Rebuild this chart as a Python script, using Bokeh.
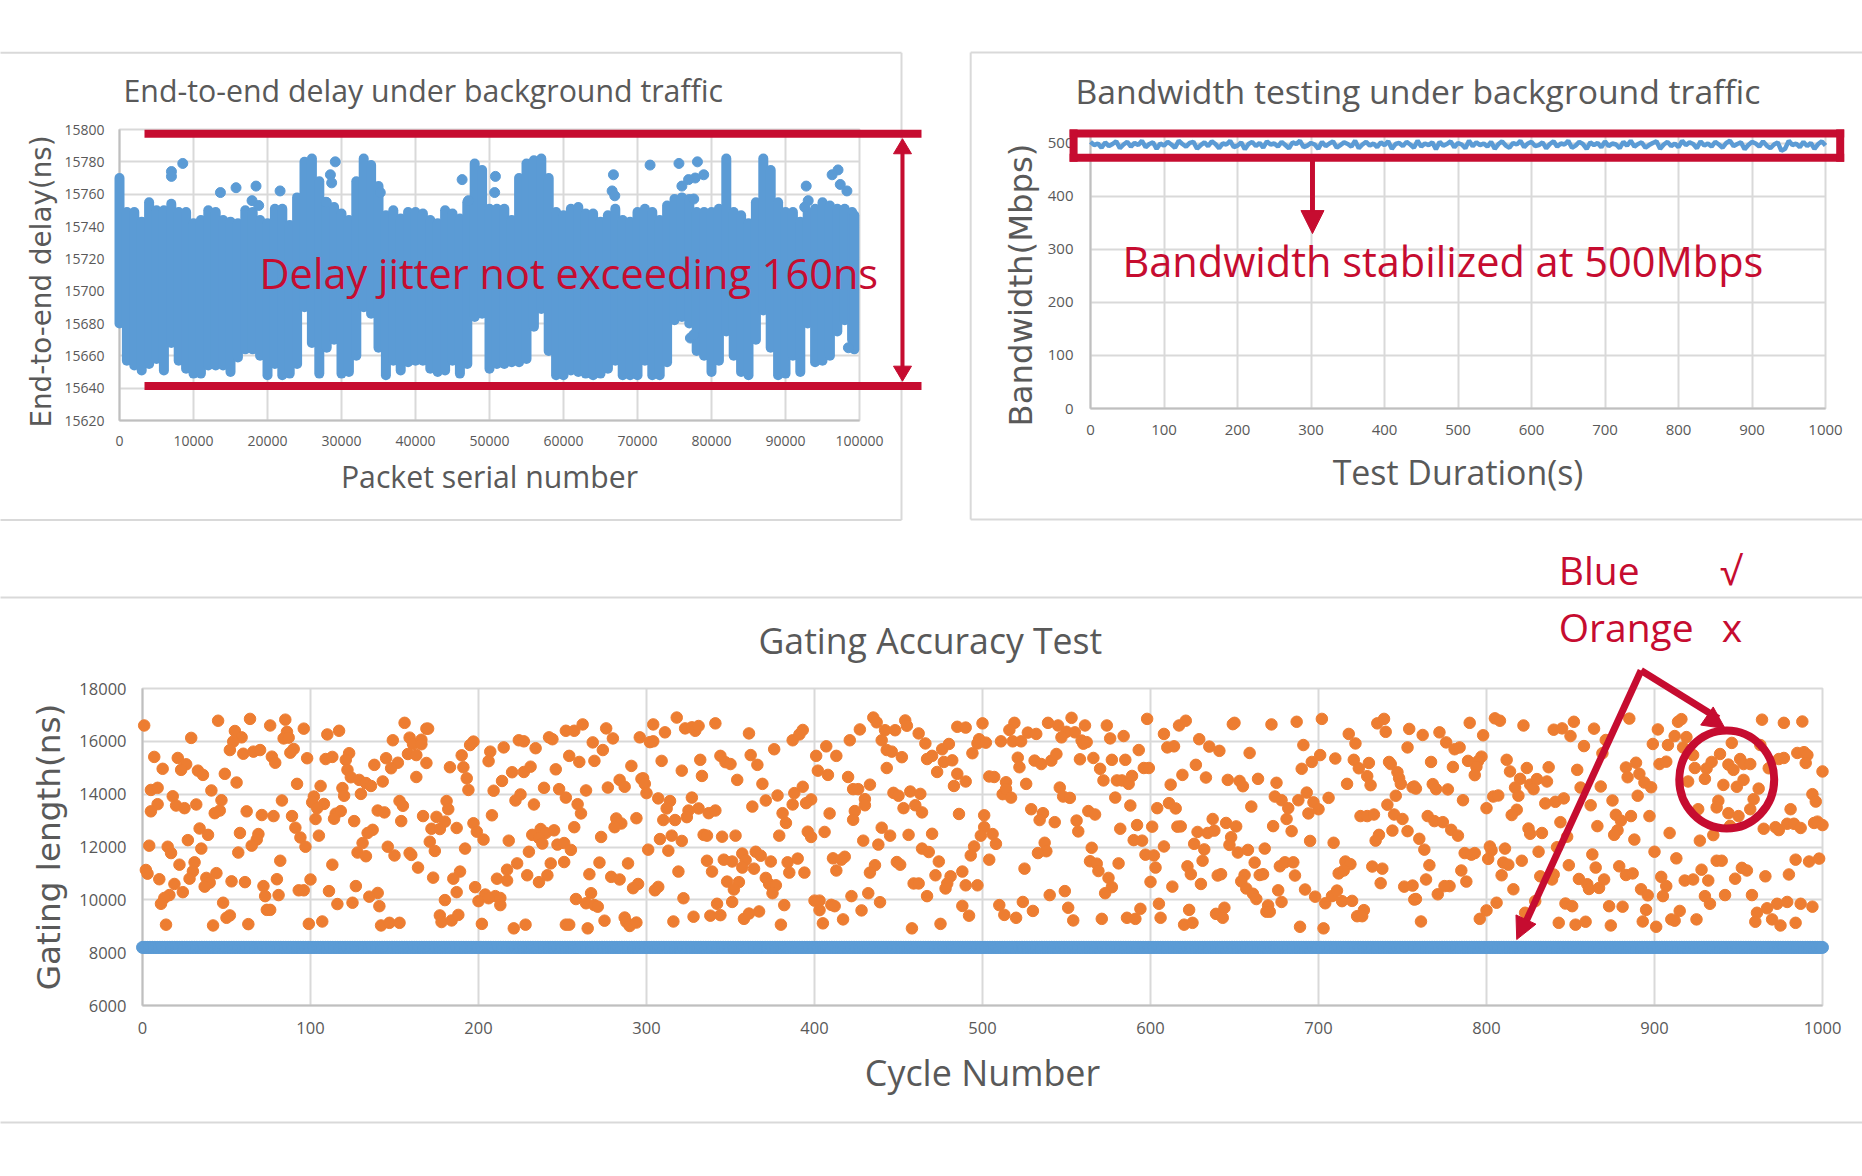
from math import pi
from bokeh.plotting import figure
from bokeh.layouts import column, row
from bokeh.models import Range1d, FixedTicker, NumeralTickFormatter, Arrow, NormalHead
from bokeh.core.properties import value
from bokeh.embed import file_html
from bokeh.resources import INLINE

BLUE = "#5B9BD5"
ORANGE = "#ED7D31"
RED = "#C60C30"
GRID = "#D9D9D9"
AXIS = "#BFBFBF"
TEXT = "#595959"
SANS = "Open Sans"
WIDE = "DejaVu Sans"

# ---------- chart 1: delay envelope per 1000 packets ----------
delay_packet = [i * 1000 for i in range(100)] + [99300]
delay_high = [15770,15749,15749,15743,15755,15750,15750,15754,15749,15749,15742,15744,15750,15749,15744,15743,15742,15750,15749,15744,
15742,15751,15751,15741,15758,15780,15782,15768,15755,15752,15748,15744,15768,15782,15778,15765,15747,15750,15745,15749,
15749,15748,15744,15742,15750,15748,15745,15755,15779,15775,15751,15751,15751,15744,15770,15779,15781,15782,15770,15749,
15747,15751,15752,15748,15748,15743,15747,15751,15744,15743,15749,15751,15749,15744,15753,15757,15758,15757,15749,15749,
15749,15751,15782,15749,15747,15742,15755,15782,15775,15755,15749,15749,15743,15749,15751,15755,15753,15751,15751,15749,15747]
delay_low = [15680,15657,15654,15651,15655,15658,15651,15668,15657,15652,15649,15649,15654,15654,15654,15650,15659,15664,15664,15660,
15648,15655,15648,15649,15655,15690,15668,15649,15665,15670,15649,15650,15660,15690,15686,15665,15648,15657,15651,15656,
15657,15657,15652,15650,15651,15657,15649,15655,15684,15686,15652,15655,15655,15656,15656,15658,15678,15689,15663,15648,
15648,15651,15650,15649,15648,15649,15652,15657,15648,15648,15648,15657,15648,15648,15656,15682,15684,15680,15663,15660,
15650,15657,15675,15660,15650,15648,15670,15688,15665,15648,15649,15660,15650,15680,15656,15657,15660,15675,15682,15670,15664]
outlier_packet = [8550,7020,7020,13640,15750,18450,17910,18810,21700,29160,28500,28670,35240,46300,47160,27900,
50800,50700,66750,66570,66930,71700,75600,78100,78950,77800,76900,76000,77600,92800,93070,92600,97100,96300,97400,98300,77150,77600,98500]
outlier_delay = [15779,15774,15771,15761,15764,15765,15756,15753,15762,15780,15772,15767,15761,15769,15756,15755,
15771,15761,15772,15762,15759,15778,15779,15780,15772,15770,15769,15765,15757,15765,15756,15752,15775,15772,15766,15762,15671,15673,15665]
delay_xticks = [0,10000,20000,30000,40000,50000,60000,70000,80000,90000,100000]
delay_yticks = [15620,15640,15660,15680,15700,15720,15740,15760,15780,15800]

# ---------- chart 2: bandwidth ----------
bw_time = [i * 5 for i in range(201)]
bw_value = [503,497,500,492,502,495,499,504,491,498,503,494,501,497,505,493,499,502,490,500,
496,503,498,492,505,499,494,501,503,490,497,502,495,504,499,491,500,498,505,493,
496,502,489,499,503,495,501,492,504,498,500,494,503,497,491,502,499,505,493,496,
501,498,490,503,495,500,504,492,497,502,499,494,505,491,498,503,496,500,493,502,
497,504,490,499,501,495,503,498,492,505,494,500,497,502,489,503,496,499,504,493,
501,498,491,505,495,502,497,500,494,503,490,499,504,496,492,501,498,505,493,500,
503,495,497,502,491,499,504,494,500,498,505,492,496,503,499,490,502,497,501,493,
504,495,500,498,491,503,496,505,494,499,502,492,497,501,504,490,498,503,495,500,
493,505,497,502,499,491,504,496,500,494,503,498,492,501,505,495,499,502,489,497,
503,500,494,504,496,491,498,502,486,490,505,497,500,493,503,495,501,490,499,504,496]
bw_xticks = [0,100,200,300,400,500,600,700,800,900,1000]
bw_yticks = [0,100,200,300,400,500]

# ---------- chart 3: gating length ----------
blue_cycle = list(range(0, 1001))
blue_length = [8200] * len(blue_cycle)
orange_cycle = [
1,45,64,76,85,96,29,55,59,54,52,60,66,70,86,84,87,90,88,77,
79,98,7,12,21,26,23,33,36,49,56,92,5,9,41,83,18,20,25,32,
47,9,5,46,43,62,71,78,89,91,94,97,34,39,27,58,69,68,65,4,
15,17,35,57,22,31,82,2,3,10,30,28,44,38,40,37,53,61,72,80,
100,19,24,73,81,93,96,16,13,11,48,74,76,14,42,63,50,52,99,
110,117,156,169,170,149,159,161,166,166,158,163,123,121,109,113,145,152,148,138,
169,183,190,195,197,191,193,194,122,124,129,133,136,143,163,106,119,120,130,102,
101,108,104,103,115,118,114,126,140,144,153,155,154,167,175,181,182,180,172,177,
187,197,199,137,134,131,105,171,203,146,174,192,128,133,150,159,160,113,164,189,
185,173,127,111,140,135,187,198,116,125,141,180,177,178,184,188,107,142,147,153,202,
207,206,215,224,227,234,242,244,252,220,214,209,227,231,246,239,248,252,225,222,
233,208,232,237,240,245,236,238,218,247,251,230,251,243,223,217,211,217,229,241,
236,204,200,210,213,213,206,221,228,252,
257,262,276,280,268,274,254,260,269,291,296,302,304,304,311,318,323,327,329,331,
341,361,309,321,332,333,344,347,350,362,366,376,387,391,393,354,369,284,287,277,
264,298,297,299,300,307,314,312,327,331,325,324,337,341,259,261,363,371,378,388,
393,387,398,395,381,383,282,294,285,281,257,310,317,273,308,315,321,334,336,345,
353,379,396,398,255,301,313,272,289,336,346,351,357,359,357,364,365,368,374,384,
390,339,319,385,394,266,279,284,371,348,355,352,373,377,375,295,292,307,305,267,
258,264,269,271,322,342,351,382,254,265,275,287,288,290,294,316,328,338,344,358,
361,367,380,
407,401,413,421,427,435,437,442,448,440,443,446,452,454,455,462,466,476,480,470,
467,477,482,485,490,500,498,497,502,494,402,408,420,443,473,485,490,483,504,433,
423,426,447,450,457,463,430,430,424,423,409,453,460,464,486,501,501,499,406,440,
445,456,470,429,438,495,493,464,468,474,418,411,416,413,436,433,449,451,504,472,
481,488,479,478,459,462,490,497,422,432,467,400,403,403,410,412,439,428,405,417,
458,475,488,492,
519,516,511,518,523,527,532,539,545,553,550,555,561,547,559,560,562,574,576,584,
598,608,617,621,649,650,672,687,702,718,722,735,739,740,754,629,635,641,610,614,
593,659,691,701,521,522,531,535,541,544,558,566,577,585,570,596,599,627,619,633,
646,653,655,664,675,690,696,710,721,730,724,729,731,742,743,747,748,749,753,756,
717,507,514,526,546,512,514,517,548,552,572,580,583,587,589,612,579,588,604,611,
615,529,536,534,543,563,567,556,557,582,592,601,616,618,637,645,651,628,634,638,
660,673,681,684,674,678,682,688,693,697,700,694,706,725,729,733,741,746,745,750,
744,753,736,734,648,647,590,595,565,537,538,533,508,506,608,626,632,652,658,668,
695,709,597,602,631,622,624,603,581,564,568,569,525,575,577,573,600,613,630,640,
642,656,654,657,662,661,663,665,667,677,680,685,686,676,692,698,678,704,708,711,
714,720,712,716,719,715,732,738,737,751,756,757,540,549,510,524,513,520,530,551,
554,571,586,591,594,605,606,623,620,625,639,644,643,670,669,671,689,703,723,727,726,
762,772,776,781,784,790,798,805,808,822,840,845,852,850,864,885,858,871,902,899,
908,912,914,916,919,917,923,946,964,977,988,963,767,780,789,797,795,794,793,812,
814,824,837,854,869,883,889,891,884,894,898,903,907,924,931,934,939,944,947,951,
953,957,968,974,977,985,989,991,990,1000,757,758,768,770,777,820,817,819,826,830,
828,836,856,868,920,930,941,949,953,962,804,807,786,800,818,815,835,841,846,862,
875,890,959,938,937,926,957,944,950,981,994,996,765,769,774,779,783,825,826,833,
844,848,866,877,880,886,897,878,876,888,909,927,935,945,965,972,974,979,983,987,
995,997,1000,760,763,802,803,801,811,787,791,793,831,842,863,900,913,766,785,810,
813,821,809,849,865,879,883,887,937,940,928,952,955,984,992,998,980,966,764,788,
778,775,771,758,816,832,839,840,855,860,861,867,870,904,907,905,892,896,918,923,
932,948,930,942,958,933,806,829,847,851,873,881,895,915,961,967,973,979,987,994,
800,823,796,761,843,853,859,874,893,901,910,912,925,960,970,975,984]
orange_length = [
16600,16780,16850,16600,16820,16480,16130,16390,16150,15990,15670,15530,15610,15670,16360,16110,16140,15710,15570,15420,
15190,15360,15410,14960,15370,15130,14920,14890,14730,14770,14440,14390,14160,14240,14140,13760,13920,13570,13470,13610,
13770,13620,13350,13380,13280,13350,13210,13170,13170,12730,12360,12010,12700,12460,12260,12530,12490,12280,12050,12050,
12010,11770,11940,11790,11330,11420,11480,11130,10990,10780,11080,10800,11010,10830,10650,10500,10700,10670,10520,10780,
10770,10600,10290,10140,10180,10360,10360,10180,10070,9850,9890,9620,9620,9060,9030,9080,9320,9410,9090,
16260,16400,16700,16480,16480,16040,16140,15900,16060,15890,15520,15480,15550,15300,15330,15410,15360,15190,14980,15110,
15180,15020,15470,15860,15990,15020,14600,14160,14920,14640,14540,14420,14310,14480,14650,14310,14230,13940,14010,13910,
13690,13630,13470,13060,13260,13360,13070,12980,13380,13310,13740,13560,12980,13170,13140,13740,13430,12960,12690,12680,
12720,12900,12580,12650,12530,12150,12430,12200,12280,12010,11850,11940,11790,11650,11680,11770,11700,11330,11220,11070,
10800,10840,10520,10330,10260,10120,10290,10480,9840,9890,9760,9990,9410,9160,9220,9430,9180,9030,9130,9130,9090,
15610,15250,15770,16040,16000,15740,16150,16080,16400,14830,14500,14130,14840,15040,14940,14240,14190,13870,13990,13760,
13610,13200,12460,12680,12530,12630,12340,12130,12240,12090,12150,11820,11430,11380,11380,11140,10800,10730,10930,10930,
10670,10200,9950,10140,10070,9800,10060,8920,9060,9060,
16400,16640,16490,16110,15960,15670,15450,15220,15260,15070,16150,15970,16000,16640,16340,16900,16490,16530,16400,16580,
16680,16300,15260,14890,15300,14690,15450,15210,15140,15480,15110,15700,16040,16260,16430,14540,14390,14540,14280,14250,
14140,14600,14580,14390,14040,13840,13740,13460,13870,13460,13380,13130,13280,13380,13620,13270,13530,13760,13950,14040,
14280,13610,13800,13660,13280,12910,13080,13090,12890,12750,12750,13020,13020,12380,12300,12430,12230,12460,12430,12390,
12430,12430,12580,12380,11890,11900,11860,11410,11380,11480,11520,11450,11750,11500,11220,11180,11820,11670,11450,11420,
11560,11070,11070,11030,11030,10970,10870,10770,10830,10690,10670,10390,10600,10550,10250,10600,10440,10490,10360,10250,
10030,9870,9800,9740,10060,9850,9920,9800,9060,8920,9210,9330,9160,9010,9140,9180,9360,9400,9420,9280,
9480,9560,9060,
15810,15450,15450,16040,16450,16900,16720,16420,16420,16040,15670,15610,15400,16790,16590,16300,15920,15700,15900,15450,
15330,15220,15280,16550,16520,16680,16080,15920,15950,15550,14890,14730,14650,14990,14840,14770,14480,14310,14670,14360,
14190,14190,14050,13940,14100,14010,13810,13580,13360,13030,13270,13470,13580,13310,13250,13200,12750,12430,12570,12730,
12430,12460,12500,12240,12090,12020,11680,11940,11810,11450,11630,11570,11520,11110,11310,11030,11430,11330,11520,10930,
10890,11070,10620,10430,10620,10620,10550,10550,10140,10250,10140,9970,9970,9610,9810,9760,9910,9600,9110,9260,
8920,9090,9770,9400,
16700,16430,16000,16000,16000,16330,16280,16700,16600,16890,16360,16340,16600,16150,16030,15910,15970,16600,16110,16200,
16850,16280,16600,16780,16650,16700,16640,16740,16850,16280,15920,16680,16850,16360,16470,16080,15800,15640,15770,15810,
15670,15560,15860,15480,15380,15020,15270,15140,15270,15520,15320,15370,15300,15300,14960,14990,14990,15110,14730,14630,
14540,14500,14300,14580,14430,14960,15220,15350,15300,15180,14980,14680,14340,15220,15140,14830,14600,14390,15770,14260,
14390,14650,14450,14390,14250,14000,14190,13870,13910,13860,14520,14520,14520,14390,14690,14360,13870,13570,13470,13660,
13460,13430,13280,13020,12940,13360,13230,13000,12590,12690,12830,12770,12770,12780,13060,12910,12780,12570,12530,12620,
13530,12790,13060,12600,13910,13770,13470,13770,14060,13690,13430,13270,13860,13170,13170,13230,13600,13940,13230,13060,
12620,12600,12460,12240,12370,12080,12260,12240,11970,12160,11840,11770,12120,12490,12020,12120,11910,11790,11890,11940,
12230,12160,11710,11680,11480,11270,10970,11220,11380,11460,11370,11090,11180,10830,10480,10250,10680,10500,10600,10920,
10970,10940,10700,10430,11410,10230,10030,10940,10970,11270,11420,11420,10920,10360,10390,10120,9920,9870,10140,10350,
9950,9960,11000,11450,11350,11110,11260,11180,10630,10500,10540,10010,10180,10330,9800,9920,9430,9320,9580,9700,
9220,9280,9320,9280,9660,9850,9320,9620,9060,9130,9470,9700,9320,9790,9550,9550,8980,8920,9380,9610,9380,
16240,16340,15960,15700,15770,16700,16230,16870,16780,16600,16440,16490,16740,16200,16480,16860,15820,16050,16450,15900,
15860,16200,16740,16840,16160,15770,15480,15940,16820,16700,16750,15860,15220,15030,15260,15420,15250,15040,14720,15300,
14860,14990,15020,14920,15550,15010,15190,14770,14640,14440,14260,15140,15230,14990,14970,15220,15520,15120,14920,15330,
15140,15140,14980,15330,15370,15560,15590,15480,15180,14860,14290,14210,14380,14190,14180,14580,14250,13940,14360,14570,
14190,14480,14250,14290,14480,14580,14350,14280,14540,14210,13910,13950,13770,13470,13410,13210,13650,13710,13840,13580,
13760,13940,13810,13750,13500,13430,13430,13280,13170,13430,14000,13720,13170,12980,12940,12650,12430,12700,12500,12530,
12940,12390,12790,13220,13000,13170,13170,12630,12460,12280,12530,12240,12450,12800,12690,12750,12640,12880,12880,12720,
12910,12960,12830,12310,11900,12020,11870,11550,11940,11770,11710,11770,11820,11990,11720,11820,11570,11310,11110,11410,
11330,11480,10930,11310,11220,11270,10940,11000,11480,11480,11140,11210,11110,11520,11450,11560,10960,10890,10770,10690,
10520,10520,10210,10030,10400,10890,10770,10960,10790,10590,10410,10450,10770,10870,10520,10140,10400,10170,10730,10770,
10730,10800,10140,10180,10180,9850,9890,9950,9860,9760,9760,9740,9620,9580,9510,9680,9850,9920,9850,9740,
9600,9510,9280,9180,9130,9060,9170,9030,9180,8980,9260,9210,9260,9170,9260,9030,9130]
gate_xticks = [0,100,200,300,400,500,600,700,800,900,1000]
gate_yticks = [6000,8000,10000,12000,14000,16000,18000]


def make_fig(width, height, xr, yr, left, right, top, bottom, title, xlabel, ylabel,
             xticks, yticks, tick_size, title_size, title_offset, title_standoff,
             xlab_size, ylab_size, tick_standoff_x, tick_standoff_y, xlab_standoff, ylab_standoff):
    p = figure(width=width, height=height, x_range=Range1d(*xr), y_range=Range1d(*yr),
               output_backend="svg", toolbar_location=None, title=title,
               min_border_left=left, min_border_right=right, min_border_top=top, min_border_bottom=bottom,
               border_fill_color="white", background_fill_color="white", margin=(0, 0, 0, 0))
    p.title.text_font = SANS
    p.title.text_font_size = title_size
    p.title.text_font_style = "normal"
    p.title.text_color = TEXT
    p.title.align = "left"
    p.title.offset = title_offset
    p.title.standoff = title_standoff
    p.outline_line_color = GRID
    p.outline_line_width = 2
    for ax, ticks, lab, lsize, ts, ls in ((p.xaxis[0], xticks, xlabel, xlab_size, tick_standoff_x, xlab_standoff),
                                          (p.yaxis[0], yticks, ylabel, ylab_size, tick_standoff_y, ylab_standoff)):
        ax.ticker = FixedTicker(ticks=ticks)
        ax.formatter = NumeralTickFormatter(format="0")
        if lab:
            ax.axis_label = lab
            ax.axis_label_text_font_size = lsize
            ax.axis_label_text_font_style = "normal"
            ax.axis_label_text_color = TEXT
            ax.axis_label_standoff = ls
        ax.major_label_text_font = SANS
        ax.major_label_text_font_size = tick_size
        ax.major_label_text_color = TEXT
        ax.major_label_standoff = ts
        ax.major_tick_line_color = None
        ax.minor_tick_line_color = None
        ax.axis_line_color = AXIS
        ax.axis_line_width = 2
    p.xaxis[0].axis_label_text_font = SANS
    p.yaxis[0].axis_label_text_font = WIDE
    p.xgrid[0].ticker = FixedTicker(ticks=xticks)
    p.ygrid[0].ticker = FixedTicker(ticks=yticks)
    for g in (p.xgrid[0], p.ygrid[0]):
        g.grid_line_color = GRID
        g.grid_line_width = 2
    return p


def rule(p, x0, y0, x1, y1, color=GRID, width=2, level="annotation", cap="butt"):
    p.segment([x0], [y0], [x1], [y1], line_color=color, line_width=width, line_cap=cap, level=level)


def arrow_head(p, x0, y0, x1, y1, size):
    p.add_layout(Arrow(x_start=x0, y_start=y0, x_end=x1, y_end=y1, line_alpha=0, line_width=1, level="overlay",
                       end=NormalHead(size=size, fill_color=RED, line_color=RED, line_width=1)))


def note(p, x, y, text, size, color=RED, font=SANS, align="left", angle=0, level="overlay"):
    p.text([x], [y], text=[text], text_font=value(font), text_font_size=value(size), text_color=color,
           text_baseline="middle", text_align=align, angle=angle, level=level)


# ---------- figure 1 ----------
f1 = make_fig(940, 530, (0, 100000), (15620, 15800), 119, 81, 129, 110,
              "End-to-end delay under background traffic", "Packet serial number", None,
              delay_xticks, delay_yticks, "14px", "30.3px", 4, 38, "30.2px", "27.8px", 9, 9, 7, 5)
rule(f1, -16081, 15847.4, 105676, 15847.4)
rule(f1, -16081, 15558.4, 105676, 15558.4)
rule(f1, 105676, 15847.4, 105676, 15558.4)
f1.segment(delay_packet, delay_low, delay_packet, delay_high, line_color=BLUE, line_width=10,
           line_cap="round", level="annotation")
f1.scatter(outlier_packet, outlier_delay, size=10, color=BLUE, level="annotation")
rule(f1, 3378, 15797.4, 108378, 15797.4, RED, 8, "overlay")
rule(f1, 3378, 15641.4, 108378, 15641.4, RED, 8, "overlay")
rule(f1, 105810, 15788, 105810, 15652, RED, 4, "overlay")
f1.patch([104594, 105810, 107026], [15785, 15794.3, 15785], color=RED, level="overlay")
f1.patch([104594, 105810, 107026], [15653.6, 15644.3, 15653.6], color=RED, level="overlay")
note(f1, 18919, 15711, "Delay jitter not exceeding 160ns", "41.5px")
note(f1, -10473, 15706, "End-to-end delay(ns)", "27.8px", TEXT, WIDE, "center", pi / 2)

# ---------- figure 2 ----------
f2 = make_fig(922, 530, (0, 1000), (0, 520.7), 150, 37, 132, 122,
              "Bandwidth testing under background traffic", "Test Duration(s)", None,
              bw_xticks, bw_yticks, "15px", "33.7px", -15, 37, "33.9px", "32.3px", 10, 11, 11, 5)
rule(f2, -163, 671.7, 1050, 671.7)
rule(f2, -163, -209.4, 1050, -209.4)
rule(f2, -163, 671.7, -163, -209.4)
f2.line(bw_time, bw_value, line_color=BLUE, line_width=4.5, level="annotation")
rule(f2, -23, 519, 1020, 519, RED, 8, "overlay", "square")
rule(f2, -23, 473, 1020, 473, RED, 8, "overlay", "square")
rule(f2, -23, 473, -23, 519, RED, 8, "overlay", "square")
rule(f2, 1020, 473, 1020, 519, RED, 8, "overlay", "square")
rule(f2, 302, 473, 302, 340, RED, 5, "overlay")
arrow_head(f2, 302, 420, 302, 330, 23)
note(f2, 43.5, 278, "Bandwidth stabilized at 500Mbps", "41.5px")
note(f2, -95, 233, "Bandwidth(Mbps)", "32.3px", TEXT, WIDE, "center", pi / 2)

# ---------- figure 3 ----------
f3 = make_fig(1862, 600, (0, 1000), (6000, 18000), 142, 40, 158, 125,
              "Gating Accuracy Test", "Cycle Number", "Gating length(ns)",
              gate_xticks, gate_yticks, "16.5px", "35.6px", 616, 49, "35.9px", "32.7px", 10, 10, 11, 8)
rule(f3, -84.5, 21444, 1024, 21444)
rule(f3, -84.5, 1573, 1024, 1573)
f3.scatter(orange_cycle, orange_length, size=11.5, color=ORANGE, level="annotation")
f3.scatter(blue_cycle, blue_length, size=12, color=BLUE, level="annotation")
rule(f3, 892, 18681, 822, 8966, RED, 7, "overlay")
rule(f3, 892, 18681, 938, 16866, RED, 7, "overlay")
arrow_head(f3, 892, 18681, 818, 8498, 22)
arrow_head(f3, 892, 18681, 942, 16486, 22)
f3.ellipse([943], [14555], width=56.5, height=3710, fill_color=None, line_color=RED, line_width=8, level="overlay")
note(f3, 843, 22519, "Blue", "39px")
note(f3, 939, 22519, "√", "39px")
note(f3, 843, 20362, "Orange", "39px")
note(f3, 940, 20362, "x", "39px")

page = column(row(column(f1, margin=(0, 0, 0, 0)), column(f2, margin=(0, 0, 0, 0)), margin=(0, 0, 0, 0)),
              f3, margin=(0, 0, 0, 0))
open("out.html", "w").write(file_html(page, INLINE))
